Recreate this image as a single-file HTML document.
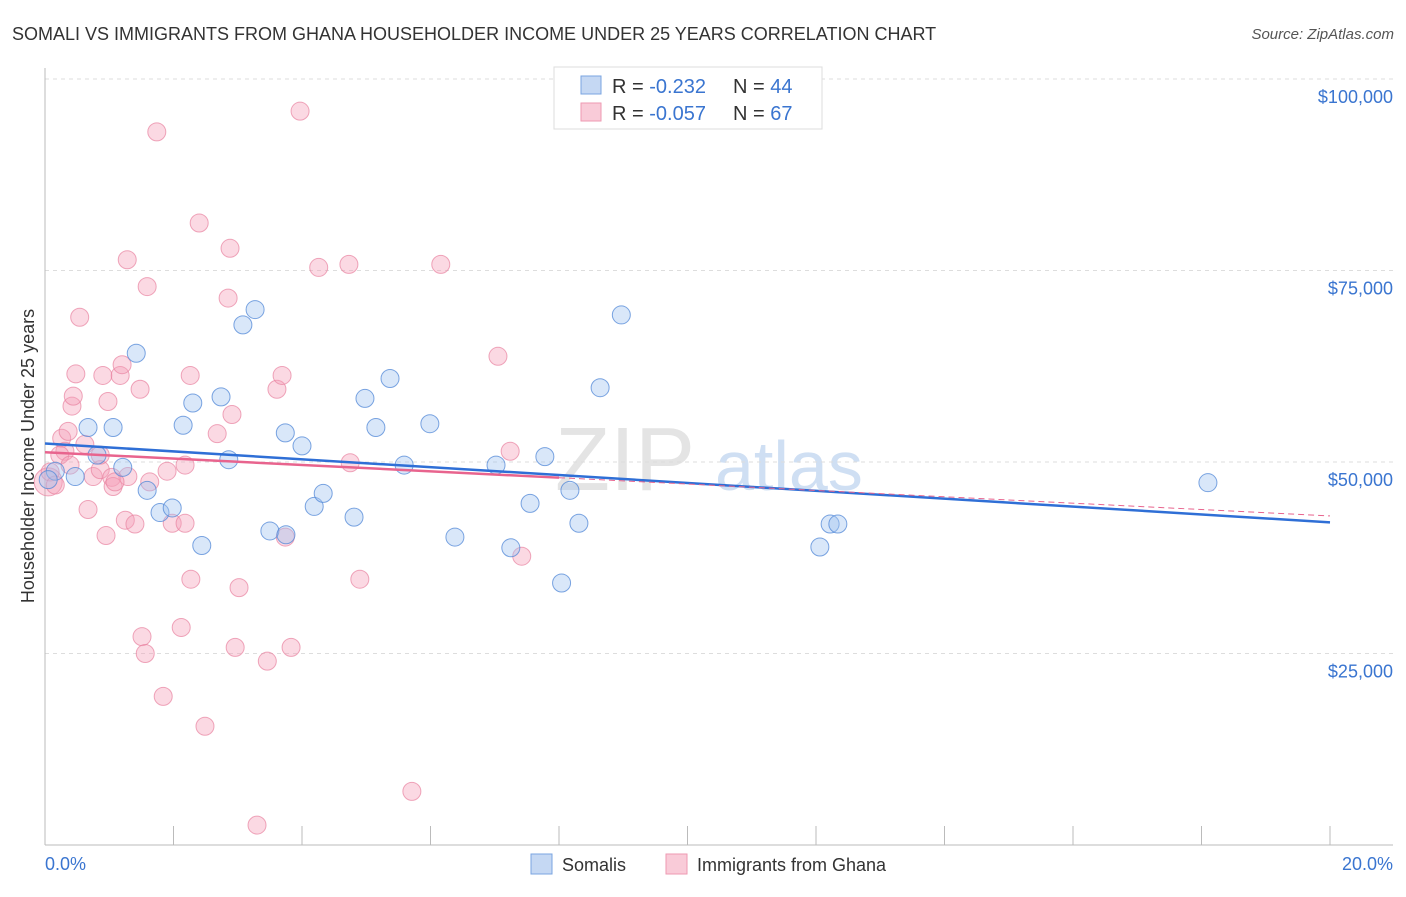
<!DOCTYPE html>
<html><head><meta charset="utf-8"><style>
body{margin:0;background:#fff;font-family:"Liberation Sans",sans-serif;}
svg text{font-family:"Liberation Sans",sans-serif;}
</style></head><body>
<svg id="chart" width="1406" height="892" xmlns="http://www.w3.org/2000/svg">
<text x="12" y="40" font-size="18" fill="#333">SOMALI VS IMMIGRANTS FROM GHANA HOUSEHOLDER INCOME UNDER 25 YEARS CORRELATION CHART</text>
<text x="1394" y="39" font-size="15" fill="#555" font-style="italic" text-anchor="end">Source: ZipAtlas.com</text>
<text x="555" y="490" font-size="90" fill="#e4e4e4" font-family="Liberation Serif">ZIP</text>
<text x="715" y="490" font-size="70" fill="#cfdff3">atlas</text>
<g id="grid"></g>
<g id="axes"></g>
<g id="marks"></g>
<text transform="translate(34,456) rotate(-90)" font-size="18" fill="#333" text-anchor="middle">Householder Income Under 25 years</text>
<text x="45" y="870" font-size="18" fill="#3a75d0">0.0%</text>
<text x="1393" y="870" font-size="18" fill="#3a75d0" text-anchor="end">20.0%</text>
<g>
<rect x="554" y="67" width="268" height="62" fill="#fff" stroke="#ddd"/>
<rect x="581" y="76" width="20" height="18" fill="#c5d8f3" stroke="#7aa4e0"/>
<rect x="581" y="103" width="20" height="18" fill="#f9cbd8" stroke="#ee9ab2"/>
<text x="612" y="93" font-size="20" fill="#333">R = <tspan fill="#3a75d0">-0.232</tspan></text>
<text x="733" y="93" font-size="20" fill="#333">N = <tspan fill="#3a75d0">44</tspan></text>
<text x="612" y="120" font-size="20" fill="#333">R = <tspan fill="#3a75d0">-0.057</tspan></text>
<text x="733" y="120" font-size="20" fill="#333">N = <tspan fill="#3a75d0">67</tspan></text>
</g>
<g>
<rect x="531" y="854" width="21" height="20" fill="#c5d8f3" stroke="#7aa4e0"/>
<text x="562" y="871" font-size="18" fill="#333">Somalis</text>
<rect x="666" y="854" width="21" height="20" fill="#f9cbd8" stroke="#ee9ab2"/>
<text x="697" y="871" font-size="18" fill="#333">Immigrants from Ghana</text>
</g>
</svg>
<script>
const yTicks=[25000,50000,75000,100000];
const yTickLabels=["$25,000","$50,000","$75,000","$100,000"];
const blueX=[0.16,0.47,0.67,0.81,1.06,1.21,1.42,1.59,1.79,1.98,2.15,2.30,2.44,2.74,2.86,3.08,3.27,3.50,3.74,3.75,4.00,4.19,4.33,4.81,4.98,5.15,5.37,5.59,5.99,6.38,7.02,7.25,7.55,7.78,8.04,8.17,8.31,8.64,8.97,12.06,12.22,12.34,18.10,0.05];
const blueY=[48800,48100,54500,50900,54500,49300,64200,46300,43400,44000,54800,57700,39100,58500,50300,67900,69900,41000,53800,40500,52100,44200,45900,42800,58300,54500,60900,49600,55000,40200,49600,38800,44600,50700,34200,46300,42000,59700,69200,38900,41900,41900,47300,47700];
const pinkX=[0.05,0.08,0.16,0.26,0.31,0.36,0.42,0.44,0.48,0.54,0.62,0.67,0.75,0.86,0.90,0.95,0.98,1.04,1.06,1.17,1.20,1.25,1.28,1.29,1.40,1.48,1.51,1.56,1.59,1.74,1.84,1.90,1.98,2.12,2.18,2.26,2.27,2.40,2.49,2.68,2.85,2.88,2.91,2.96,3.02,3.30,3.46,3.61,3.69,3.74,3.83,3.97,4.26,4.73,4.75,4.90,5.71,6.16,7.05,7.24,7.42,0.86,1.63,0.23,0.39,1.09,2.18];
const pinkY=[47400,48700,47000,53100,51400,54000,57300,58600,61500,68900,52300,43800,48100,49000,61300,40400,57900,48000,46800,61300,62700,42400,76400,48100,41900,59500,27200,25000,72900,93100,19400,48800,42000,28400,49600,61300,34700,81200,15500,53700,71400,77900,56200,25800,33600,2600,24000,59500,61300,40200,25800,95800,75400,75800,49900,34700,7000,75800,63800,51400,37700,50900,47400,50900,49600,47400,42000];
const X=v=>45+v/20*1285, Y=v=>845-v/100000*766;
const ns="http://www.w3.org/2000/svg";
function mk(tag,attrs,parent){const e=document.createElementNS(ns,tag);for(const k in attrs)e.setAttribute(k,attrs[k]);document.getElementById(parent).appendChild(e);return e;}
yTicks.forEach((t,i)=>{
 const l=mk('line',{x1:45,x2:1393,y1:Y(t),y2:Y(t),stroke:'#ddd','stroke-dasharray':'4,4'},'grid');
 
 
 const tx=mk('text',{x:1393,y:Y(t)+24,'font-size':18,fill:'#3a75d0','text-anchor':'end'},'grid');
 tx.textContent=yTickLabels[i];
 
 
});
const ya=mk('line',{x1:45,x2:45,y1:68,y2:845,stroke:'#bbb'},'axes');


const xa=mk('line',{x1:45,x2:1393,y1:845,y2:845,stroke:'#bbb'},'axes');


for(let i=1;i<=10;i++){
 const tk=mk('line',{x1:X(i*2),x2:X(i*2),y1:826,y2:845,stroke:'#bbb'},'axes');
 
 
}
pinkX.forEach((x,i)=>{
 const c=mk('circle',{cx:X(x),cy:Y(pinkY[i]),r:i==0?14:9,fill:'rgba(244,160,185,0.4)',stroke:'rgba(232,130,160,0.7)'},'marks');
 
 
});
blueX.forEach((x,i)=>{
 const c=mk('circle',{cx:X(x),cy:Y(blueY[i]),r:9,fill:'rgba(160,195,240,0.4)',stroke:'rgba(80,135,215,0.75)'},'marks');
 
 
});
function fit(xs,ys){const n=xs.length,mx=xs.reduce((a,b)=>a+b)/n,my=ys.reduce((a,b)=>a+b)/n;let sxy=0,sxx=0;xs.forEach((x,i)=>{sxy+=(x-mx)*(ys[i]-my);sxx+=(x-mx)*(x-mx);});const b=sxy/sxx;return [my-b*mx,b];}
const [ba,bb]=fit(blueX,blueY);
const bl=mk('line',{x1:X(0),y1:Y(ba),x2:X(20),y2:Y(ba+bb*20),stroke:'#2f6fd6','stroke-width':2.5},'marks');


const [pa,pb]=fit(pinkX,pinkY);
const pl=mk('line',{x1:X(0),y1:Y(pa),x2:X(8),y2:Y(pa+pb*8),stroke:'#e8648e','stroke-width':2.5},'marks');


const pd=mk('line',{x1:X(8),y1:Y(pa+pb*8),x2:X(20),y2:Y(pa+pb*20),stroke:'#e8648e','stroke-width':1,'stroke-dasharray':'6,4'},'marks');


</script>
</body></html>
